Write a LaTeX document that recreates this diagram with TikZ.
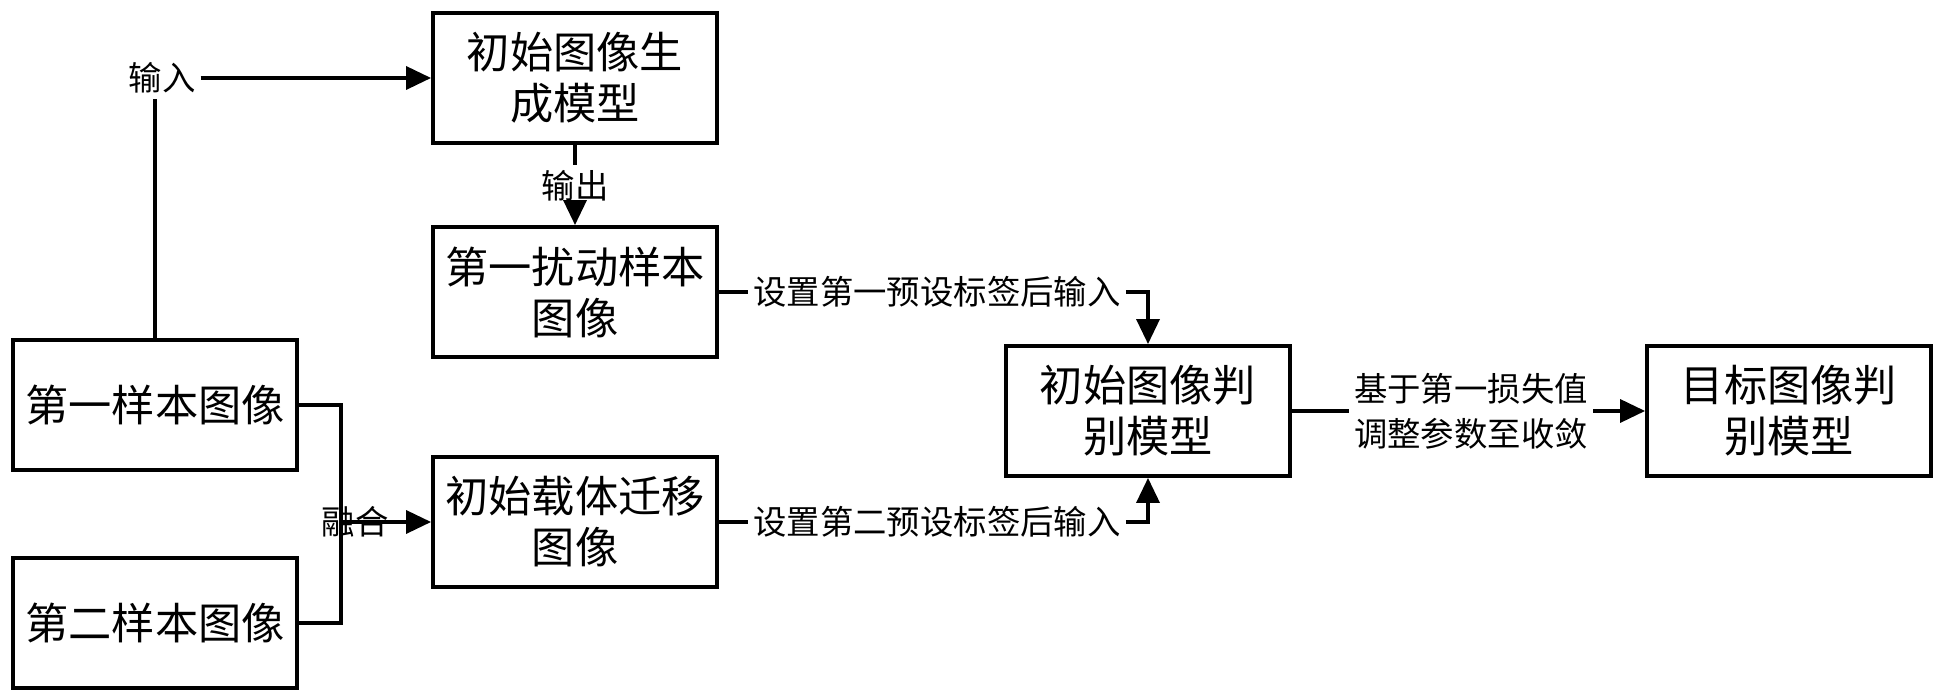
\documentclass[tikz,border=0pt]{standalone}
\usepackage{fontspec}
\setmainfont{Noto Sans CJK SC}
\usetikzlibrary{arrows.meta}

\tikzset{
  blk/.style={draw, line width=1.1pt, minimum width=2.84cm, minimum height=1.30cm,
    align=center, font=\fontsize{12.3}{14.5}\selectfont},
  lbl/.style={inner sep=1pt, align=center, font=\fontsize{9.5}{12.7}\selectfont},
  arr/.style={-{Triangle[length=0.25cm,width=0.23cm]}}
}

\begin{document}
\begin{tikzpicture}[line width=1pt]
\useasboundingbox (0,0) rectangle (19.46,6.99);

% Block centres
\coordinate (PA) at (5.75,6.21);
\coordinate (PB) at (5.75,4.07);
\coordinate (PC) at (1.55,2.94);
\coordinate (PD) at (1.55,0.76);
\coordinate (PE) at (5.75,1.77);
\coordinate (PF) at (11.48,2.88);
\coordinate (PG) at (17.89,2.88);

% Blocks
\node[blk] (gen) at (PA) {初始图像生\\成模型};
\node[blk] (pert) at (PB) {第一扰动样本\\图像};
\node[blk] (smp1) at (PC) {第一样本图像};
\node[blk] (smp2) at (PD) {第二样本图像};
\node[blk] (carr) at (PE) {初始载体迁移\\图像};
\node[blk] (disc) at (PF) {初始图像判\\别模型};
\node[blk] (targ) at (PG) {目标图像判\\别模型};

% Labels on the connectors
\node[lbl] (in) at (1.62,6.21) {输入};
\node[lbl] (out) at (5.75,5.13) {输出};
\node[lbl] (set1) at (9.37,4.07) {设置第一预设标签后输入};
\node[lbl] (set2) at (9.37,1.77) {设置第二预设标签后输入};
\node[lbl] (loss) at (14.71,2.88) {基于第一损失值\\调整参数至收敛};

% Fusion point
\coordinate (fuse) at (3.41,1.77);

% Connectors
\draw (smp1.north) -- (smp1.north |- in.south);
\draw[arr] (in.east) -- (gen.west);
\draw (gen.south) -- (out.north);
\draw[arr] (out.south) -- (pert.north);
\draw (smp1.east) -| (fuse) |- (smp2.east);
\draw[arr] (fuse) -- (carr.west);
\node[lbl] (fu) at (3.55,1.77) {融合};
\draw (pert.east) -- (set1.west);
\draw[arr] (set1.east) -| (disc.north);
\draw (carr.east) -- (set2.west);
\draw[arr] (set2.east) -| (disc.south);
\draw (disc.east) -- (loss.west);
\draw[arr] (loss.east) -- (targ.west);

\end{tikzpicture}
\end{document}
